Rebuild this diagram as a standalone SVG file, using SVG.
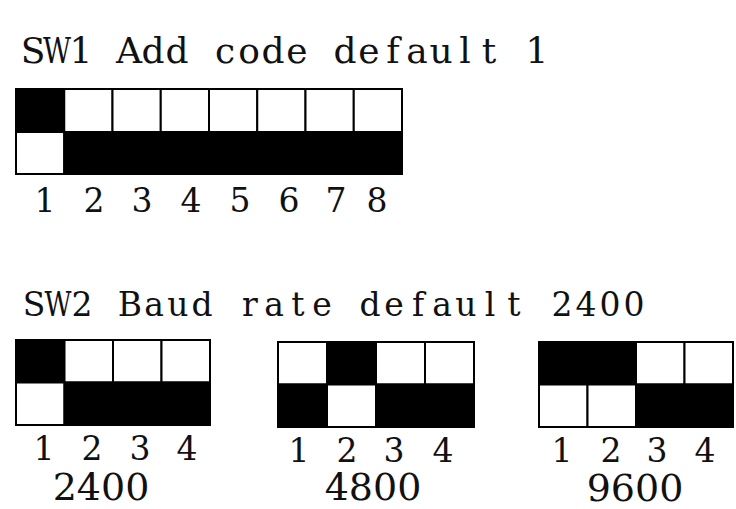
<svg xmlns="http://www.w3.org/2000/svg" width="736" height="509" viewBox="0 0 736 509">
<style>
  .bg { fill: #ffffff; }
  .on { fill: #000000; stroke: #000000; stroke-width: 2; }
  .off { fill: #ffffff; stroke: #000000; stroke-width: 2; }
  text { font-family: 'DejaVu Serif', serif; fill: #111111; text-anchor: middle; }
  .num { font-size: 33px; }
  .rate { font-size: 38px; }
</style>
<rect class="bg" x="0" y="0" width="736" height="509"/>

<g id="title1">
  <text font-size="36" y="63" x="33 57 81 105 129 153 177 201 225 249 273 297 321 345 369 393 417 441 465 489 513 537">S<tspan x="57" textLength="28" lengthAdjust="spacingAndGlyphs">W</tspan>1 Add code default 1</text>
</g>

<g id="sw1">
  <rect class="on"  x="16"     y="89" width="48.25" height="43"/>
  <rect class="off" x="64.25"  y="89" width="48.25" height="43"/>
  <rect class="off" x="112.5"  y="89" width="48.25" height="43"/>
  <rect class="off" x="160.75" y="89" width="48.25" height="43"/>
  <rect class="off" x="209"    y="89" width="48.25" height="43"/>
  <rect class="off" x="257.25" y="89" width="48.25" height="43"/>
  <rect class="off" x="305.5"  y="89" width="48.25" height="43"/>
  <rect class="off" x="353.75" y="89" width="48.25" height="43"/>
  <rect class="off" x="16"     y="132" width="48.25" height="42"/>
  <rect class="on"  x="64.25"  y="132" width="337.75" height="42"/>
  <g id="sw1-labels">
    <text class="num" x="45" y="212">1</text>
    <text class="num" x="94" y="212">2</text>
    <text class="num" x="142" y="212">3</text>
    <text class="num" x="191" y="212">4</text>
    <text class="num" x="240" y="212">5</text>
    <text class="num" x="289" y="212">6</text>
    <text class="num" x="336" y="212">7</text>
    <text class="num" x="377" y="212">8</text>
  </g>
</g>

<g id="title2">
  <text font-size="33" y="316" x="34 58 82 106 130 154 178 202 226 250 274 298 322 346 370 394 418 442 466 490 514 538 562 586 610 634">S<tspan x="58" textLength="27" lengthAdjust="spacingAndGlyphs">W</tspan>2 Baud rate default 2400</text>
</g>

<g id="sw2-2400">
  <rect class="on"  x="16"    y="340" width="48.5" height="42.5"/>
  <rect class="off" x="64.5"  y="340" width="48.5" height="42.5"/>
  <rect class="off" x="113"   y="340" width="48.5" height="42.5"/>
  <rect class="off" x="161.5" y="340" width="48.5" height="42.5"/>
  <rect class="off" x="16"    y="382.5" width="48.5" height="42.5"/>
  <rect class="on"  x="64.5"  y="382.5" width="145.5" height="42.5"/>
  <text class="num" x="44" y="460">1</text>
  <text class="num" x="92" y="460">2</text>
  <text class="num" x="140" y="460">3</text>
  <text class="num" x="187" y="460">4</text>
  <text class="rate" x="101" y="500">2400</text>
</g>

<g id="sw2-4800">
  <rect class="off" x="278" y="342" width="49" height="42.5"/>
  <rect class="on"  x="327" y="342" width="49" height="42.5"/>
  <rect class="off" x="376" y="342" width="49" height="42.5"/>
  <rect class="off" x="425" y="342" width="49" height="42.5"/>
  <rect class="on"  x="278" y="384.5" width="49" height="42.5"/>
  <rect class="off" x="327" y="384.5" width="49" height="42.5"/>
  <rect class="on"  x="376" y="384.5" width="98" height="42.5"/>
  <text class="num" x="299" y="462">1</text>
  <text class="num" x="347" y="462">2</text>
  <text class="num" x="394" y="462">3</text>
  <text class="num" x="443" y="462">4</text>
  <text class="rate" x="373" y="500">4800</text>
</g>

<g id="sw2-9600">
  <rect class="on"  x="539"   y="342" width="97" height="42.5"/>
  <rect class="off" x="636"   y="342" width="48.5" height="42.5"/>
  <rect class="off" x="684.5" y="342" width="48.5" height="42.5"/>
  <rect class="off" x="539"   y="384.5" width="48.5" height="42.5"/>
  <rect class="off" x="587.5" y="384.5" width="48.5" height="42.5"/>
  <rect class="on"  x="636"   y="384.5" width="97" height="42.5"/>
  <text class="num" x="562" y="462">1</text>
  <text class="num" x="611" y="462">2</text>
  <text class="num" x="657" y="462">3</text>
  <text class="num" x="705" y="462">4</text>
  <text class="rate" x="635" y="501">9600</text>
</g>

<g id="connectors"></g>
</svg>
